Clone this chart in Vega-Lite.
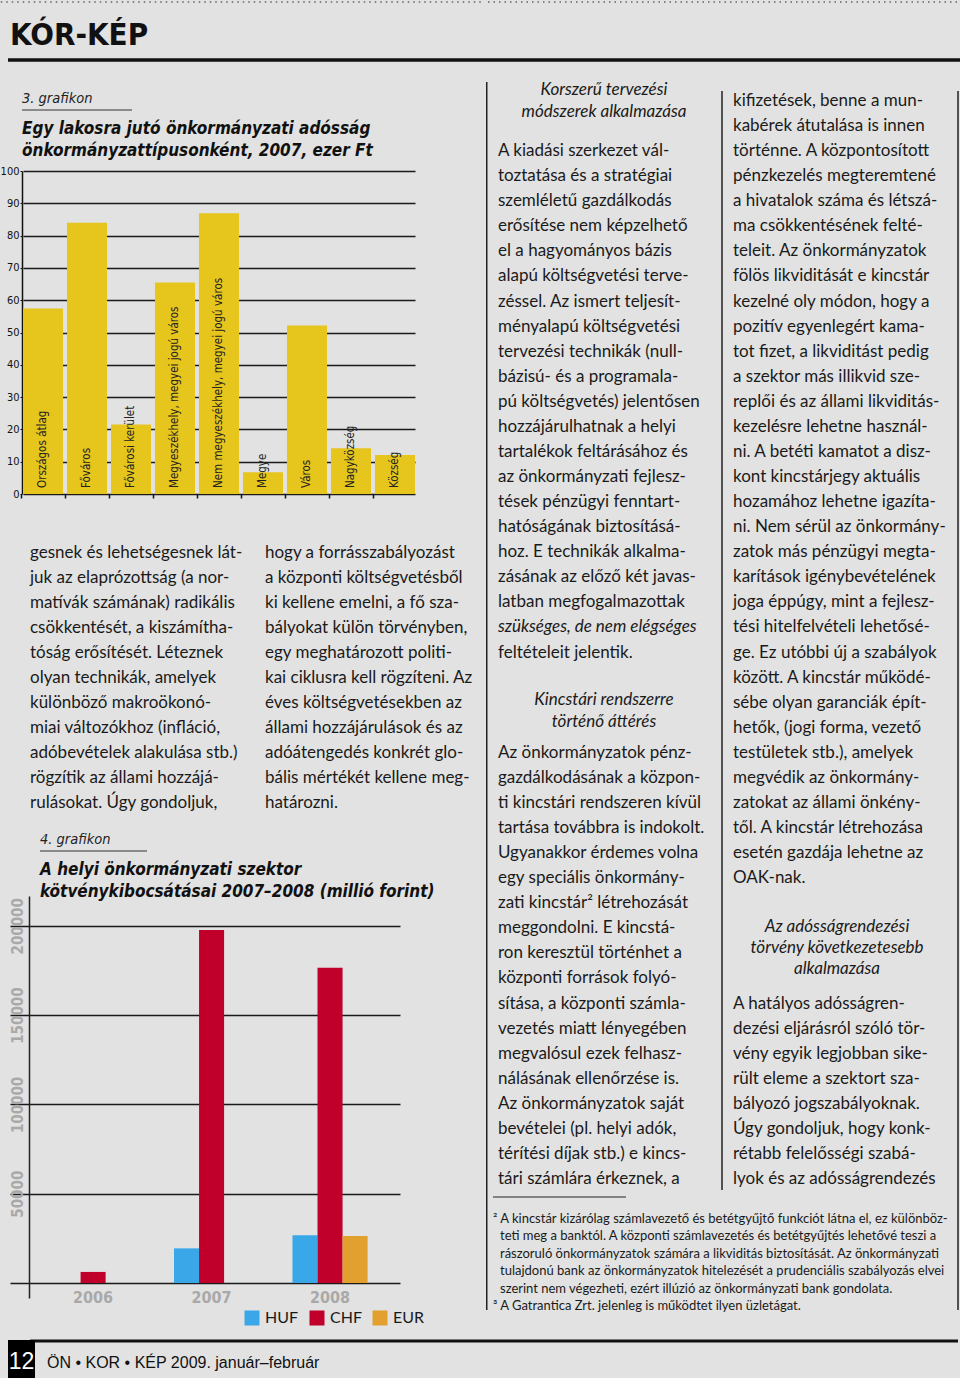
{
  "$schema": "https://vega.github.io/schema/vega-lite/v6.json",
  "background": "#e2e2e2",
  "padding": 0,
  "spacing": 0,
  "bounds": "full",
  "config": {"view": {"stroke": null}, "concat": {"spacing": 0}},
  "hconcat": [
    {
      "spacing": 0,
      "bounds": "flush",
      "vconcat": [
        {
          "width": 486, "height": 171,
          "data": {"values": [{"t": "KÓR-KÉP"}]},
          "layer": [
            {"mark": {"type": "rule", "color": "#666", "strokeWidth": 1.5, "strokeDash": [1.5, 4]}, "encoding": {"x": {"value": 0.75}, "x2": {"value": 484}, "y": {"value": 2}}},
            {"mark": {"type": "rect", "color": "#111"}, "encoding": {"x": {"value": 8}, "x2": {"value": 486}, "y": {"value": 58.25}, "y2": {"value": 61.75}}},
            {"mark": {"type": "rule", "color": "#333", "strokeWidth": 1}, "encoding": {"x": {"value": 22}, "x2": {"value": 132}, "y": {"value": 110}}},
            {"mark": {"type": "text", "align": "left", "baseline": "alphabetic", "font": "DejaVu Sans Condensed, DejaVu Sans, sans-serif", "fontSize": 31, "fontWeight": "bold", "color": "#111"}, "encoding": {"x": {"value": 10}, "y": {"value": 45}, "text": {"field": "t"}}}
          ]
        },
        {
          "width": 415, "height": 323,
          "title": {
            "text": "3. grafikon",
            "subtitle": ["Egy lakosra jutó önkormányzati adósság", "önkormányzattípusonként, 2007, ezer Ft"],
            "anchor": "start", "frame": "group", "dx": 22,
            "font": "DejaVu Sans Condensed, DejaVu Sans, sans-serif",
            "fontSize": 14.5, "fontStyle": "italic", "fontWeight": "normal", "color": "#222",
            "subtitleFont": "DejaVu Sans Condensed, DejaVu Sans, sans-serif",
            "subtitleFontSize": 17, "subtitleFontStyle": "italic", "subtitleFontWeight": "bold", "subtitleColor": "#111",
            "subtitleLineHeight": 22, "subtitlePadding": 15, "offset": 5
          },
          "data": {"values": [
            {"type": "Országos átlag", "value": 57.4},
            {"type": "Főváros", "value": 84.0},
            {"type": "Fővárosi kerület", "value": 21.5},
            {"type": "Megyeszékhely, megyei jogú város", "value": 65.5},
            {"type": "Nem megyeszékhely, megyei jogú város", "value": 86.9},
            {"type": "Megye", "value": 6.7},
            {"type": "Város", "value": 52.2},
            {"type": "Nagyközség", "value": 14.2},
            {"type": "Község", "value": 12.1}
          ]},
          "resolve": {"axis": {"y": "independent", "x": "independent"}},
          "layer": [
            {
              "mark": {"type": "bar", "color": "#e6c51d"},
              "encoding": {
                "x": {"field": "type", "type": "nominal", "sort": null, "scale": {"range": [23, 415], "paddingInner": 0.09, "paddingOuter": 0}, "axis": {"title": null, "labels": false, "domain": false, "ticks": true, "tickColor": "#111", "tickSize": 4, "tickWidth": 1.5, "bandPosition": 0, "tickOffset": -2}},
                "y": {"field": "value", "type": "quantitative", "scale": {"domain": [0, 100], "nice": false}, "axis": {"title": null, "offset": -22, "values": [0, 10, 20, 30, 40, 50, 60, 70, 80, 90, 100], "labelOverlap": false, "grid": true, "gridColor": "#1a1a1a", "gridWidth": 1.4, "domainColor": "#111", "domainWidth": 1.5, "tickColor": "#111", "tickSize": 2, "labelPadding": 1, "labelFont": "DejaVu Sans Condensed, DejaVu Sans, sans-serif", "labelFontSize": 11, "labelColor": "#111"}}
              }
            },
            {
              "mark": {"type": "text", "angle": 270, "align": "left", "baseline": "middle", "dx": 6, "font": "DejaVu Sans Condensed, DejaVu Sans, sans-serif", "fontSize": 11.5, "color": "#222"},
              "encoding": {
                "x": {"field": "type", "type": "nominal", "sort": null, "axis": null},
                "y": {"datum": 0, "type": "quantitative", "axis": null},
                "text": {"field": "type"}
              }
            }
          ]
        },
        {
          "width": 486, "height": 402,
          "data": {"values": [
            {"c": "A", "l": 0, "t": "gesnek és lehetségesnek lát-"},
            {"c": "A", "l": 1, "t": "juk az elaprózottság (a nor-"},
            {"c": "A", "l": 2, "t": "matívák számának) radikális"},
            {"c": "A", "l": 3, "t": "csökkentését, a kiszámítha-"},
            {"c": "A", "l": 4, "t": "tóság erősítését. Léteznek"},
            {"c": "A", "l": 5, "t": "olyan technikák, amelyek"},
            {"c": "A", "l": 6, "t": "különböző makroökonó-"},
            {"c": "A", "l": 7, "t": "miai változókhoz (infláció,"},
            {"c": "A", "l": 8, "t": "adóbevételek alakulása stb.)"},
            {"c": "A", "l": 9, "t": "rögzítik az állami hozzájá-"},
            {"c": "A", "l": 10, "t": "rulásokat. Úgy gondoljuk,"},
            {"c": "B", "l": 0, "t": "hogy a forrásszabályozást"},
            {"c": "B", "l": 1, "t": "a központi költségvetésből"},
            {"c": "B", "l": 2, "t": "ki kellene emelni, a fő sza-"},
            {"c": "B", "l": 3, "t": "bályokat külön törvényben,"},
            {"c": "B", "l": 4, "t": "egy meghatározott politi-"},
            {"c": "B", "l": 5, "t": "kai ciklusra kell rögzíteni. Az"},
            {"c": "B", "l": 6, "t": "éves költségvetésekben az"},
            {"c": "B", "l": 7, "t": "állami hozzájárulások és az"},
            {"c": "B", "l": 8, "t": "adóátengedés konkrét glo-"},
            {"c": "B", "l": 9, "t": "bális mértékét kellene meg-"},
            {"c": "B", "l": 10, "t": "határozni."}
          ]},
          "layer": [
            {"data": {"values": [{}]}, "mark": {"type": "rule", "color": "#333", "strokeWidth": 1}, "encoding": {"x": {"value": 40}, "x2": {"value": 147}, "y": {"value": 357}}},
            {
              "mark": {"type": "text", "align": "left", "baseline": "middle", "font": "Lato, Open Sans, sans-serif", "fontSize": 17, "color": "#1a1a1a"},
              "encoding": {
                "x": {"field": "c", "type": "nominal", "scale": {"type": "point", "domain": ["A", "B"], "range": [30, 265], "padding": 0}, "axis": null},
                "y": {"field": "l", "type": "quantitative", "scale": {"domain": [-2.34, 13.74], "reverse": true, "nice": false, "zero": false}, "axis": null},
                "text": {"field": "t"}
              }
            }
          ]
        },
        {
          "width": 400, "height": 402,
          "title": {
            "text": "4. grafikon",
            "subtitle": ["A helyi önkormányzati szektor", "kötvénykibocsátásai 2007–2008 (millió forint)"],
            "anchor": "start", "frame": "group", "dx": 40,
            "font": "DejaVu Sans Condensed, DejaVu Sans, sans-serif",
            "fontSize": 14.5, "fontStyle": "italic", "fontWeight": "normal", "color": "#222",
            "subtitleFont": "DejaVu Sans Condensed, DejaVu Sans, sans-serif",
            "subtitleFontSize": 17, "subtitleFontStyle": "italic", "subtitleFontWeight": "bold", "subtitleColor": "#111",
            "subtitleLineHeight": 22, "subtitlePadding": 15, "offset": -5
          },
          "data": {"values": [
            {"year": "2006", "cur": "CHF", "v": 6200},
            {"year": "2007", "cur": "HUF", "v": 19400},
            {"year": "2007", "cur": "CHF", "v": 197600},
            {"year": "2008", "cur": "HUF", "v": 26700},
            {"year": "2008", "cur": "CHF", "v": 176500},
            {"year": "2008", "cur": "EUR", "v": 26300}
          ]},
          "mark": {"type": "bar"},
          "encoding": {
            "x": {"field": "year", "type": "nominal", "scale": {"domain": ["2006", "2007", "2008"], "range": [10, 400], "paddingInner": 0, "paddingOuter": 0.146, "align": 0.69}, "axis": {"title": null, "domain": false, "ticks": false, "tickSize": 0, "labelAngle": 0, "labelBaseline": "top", "labelPadding": -9, "labelFont": "DejaVu Sans Condensed, DejaVu Sans, sans-serif", "labelFontWeight": "bold", "labelFontSize": 16, "labelColor": "#a9a9a9"}},
            "xOffset": {"field": "cur", "type": "nominal", "scale": {"domain": ["HUF", "CHF", "EUR"], "paddingInner": 0, "paddingOuter": 0.865}},
            "y": {"field": "v", "type": "quantitative", "scale": {"domain": [-8400, 216700], "nice": false, "zero": false}, "axis": {"title": null, "values": [0, 50000, 100000, 150000, 200000], "format": "d", "labelExpr": "datum.value == 0 ? '' : datum.label", "offset": -29, "grid": true, "gridColor": "#1a1a1a", "gridWidth": 1.5, "domain": true, "domainColor": "#222", "domainWidth": 1.5, "ticks": false, "tickSize": 0, "labelAngle": 270, "labelAlign": "center", "labelBaseline": "bottom", "labelPadding": 4, "labelFont": "DejaVu Sans Condensed, DejaVu Sans, sans-serif", "labelFontWeight": "bold", "labelFontSize": 15, "labelColor": "#a9a9a9"}},
            "color": {"field": "cur", "type": "nominal", "scale": {"domain": ["HUF", "CHF", "EUR"], "range": ["#3aa8e8", "#c0002b", "#e2a02e"]}, "legend": {"title": null, "orient": "none", "legendX": 244, "legendY": 1310, "direction": "horizontal", "symbolType": "square", "symbolSize": 225, "symbolStrokeWidth": 0, "symbolOpacity": 1, "labelFont": "Lato, Open Sans, sans-serif", "labelFontSize": 16, "labelColor": "#1a1a1a", "labelOffset": 5, "columnPadding": 10}}
          }
        },
        {
          "width": 486, "height": 80,
          "data": {"values": [{"page": "12", "t": "ÖN • KOR • KÉP 2009. január–február"}]},
          "layer": [
            {"mark": {"type": "rect", "color": "#111"}, "encoding": {"x": {"value": 30}, "x2": {"value": 486}, "y": {"value": 41.5}, "y2": {"value": 44.5}}},
            {"mark": {"type": "rect", "color": "#000"}, "encoding": {"x": {"value": 8}, "x2": {"value": 35}, "y": {"value": 42}, "y2": {"value": 80}}},
            {"mark": {"type": "text", "align": "center", "baseline": "alphabetic", "font": "Liberation Sans, Arial, sans-serif", "fontSize": 23, "color": "#ffffff"}, "encoding": {"x": {"value": 21.5}, "y": {"value": 71}, "text": {"field": "page"}}},
            {"mark": {"type": "text", "align": "left", "baseline": "alphabetic", "font": "Liberation Sans, Arial, sans-serif", "fontSize": 16, "color": "#111"}, "encoding": {"x": {"value": 47}, "y": {"value": 70}, "text": {"field": "t"}}}
          ]
        }
      ]
    },
    {
      "width": 474, "height": 1378,
      "data": {"values": [
        {"c": "m", "k": "h", "l": -0.44, "t": "Korszerű tervezési"},
        {"c": "m", "k": "h", "l": 0.44, "t": "módszerek alkalmazása"},
        {"c": "m", "k": "b", "l": 2, "t": "   A kiadási szerkezet vál-"},
        {"c": "m", "k": "b", "l": 3, "t": "toztatása és a stratégiai"},
        {"c": "m", "k": "b", "l": 4, "t": "szemléletű gazdálkodás"},
        {"c": "m", "k": "b", "l": 5, "t": "erősítése nem képzelhető"},
        {"c": "m", "k": "b", "l": 6, "t": "el a hagyományos bázis"},
        {"c": "m", "k": "b", "l": 7, "t": "alapú költségvetési terve-"},
        {"c": "m", "k": "b", "l": 8, "t": "zéssel. Az ismert teljesít-"},
        {"c": "m", "k": "b", "l": 9, "t": "ményalapú költségvetési"},
        {"c": "m", "k": "b", "l": 10, "t": "tervezési technikák (null-"},
        {"c": "m", "k": "b", "l": 11, "t": "bázisú- és a programala-"},
        {"c": "m", "k": "b", "l": 12, "t": "pú költségvetés) jelentősen"},
        {"c": "m", "k": "b", "l": 13, "t": "hozzájárulhatnak a helyi"},
        {"c": "m", "k": "b", "l": 14, "t": "tartalékok feltárásához és"},
        {"c": "m", "k": "b", "l": 15, "t": "az önkormányzati fejlesz-"},
        {"c": "m", "k": "b", "l": 16, "t": "tések pénzügyi fenntart-"},
        {"c": "m", "k": "b", "l": 17, "t": "hatóságának biztosításá-"},
        {"c": "m", "k": "b", "l": 18, "t": "hoz. E technikák alkalma-"},
        {"c": "m", "k": "b", "l": 19, "t": "zásának az előző két javas-"},
        {"c": "m", "k": "b", "l": 20, "t": "latban megfogalmazottak"},
        {"c": "m", "k": "i", "l": 21, "t": "szükséges, de nem elégséges"},
        {"c": "m", "k": "b", "l": 22, "t": "feltételeit jelentik."},
        {"c": "m", "k": "h", "l": 23.89, "t": "Kincstári rendszerre"},
        {"c": "m", "k": "h", "l": 24.77, "t": "történő áttérés"},
        {"c": "m", "k": "b", "l": 26, "t": "   Az önkormányzatok pénz-"},
        {"c": "m", "k": "b", "l": 27, "t": "gazdálkodásának a közpon-"},
        {"c": "m", "k": "b", "l": 28, "t": "ti kincstári rendszeren kívül"},
        {"c": "m", "k": "b", "l": 29, "t": "tartása továbbra is indokolt."},
        {"c": "m", "k": "b", "l": 30, "t": "Ugyanakkor érdemes volna"},
        {"c": "m", "k": "b", "l": 31, "t": "egy speciális önkormány-"},
        {"c": "m", "k": "b", "l": 32, "t": "zati kincstár² létrehozását"},
        {"c": "m", "k": "b", "l": 33, "t": "meggondolni. E kincstá-"},
        {"c": "m", "k": "b", "l": 34, "t": "ron keresztül történhet a"},
        {"c": "m", "k": "b", "l": 35, "t": "központi források folyó-"},
        {"c": "m", "k": "b", "l": 36, "t": "sítása, a központi számla-"},
        {"c": "m", "k": "b", "l": 37, "t": "vezetés miatt lényegében"},
        {"c": "m", "k": "b", "l": 38, "t": "megvalósul ezek felhasz-"},
        {"c": "m", "k": "b", "l": 39, "t": "nálásának ellenőrzése is."},
        {"c": "m", "k": "b", "l": 40, "t": "Az önkormányzatok saját"},
        {"c": "m", "k": "b", "l": 41, "t": "bevételei (pl. helyi adók,"},
        {"c": "m", "k": "b", "l": 42, "t": "térítési díjak stb.) e kincs-"},
        {"c": "m", "k": "b", "l": 43, "t": "tári számlára érkeznek, a"},
        {"c": "r", "k": "b", "l": 0, "t": "kifizetések, benne a mun-"},
        {"c": "r", "k": "b", "l": 1, "t": "kabérek átutalása is innen"},
        {"c": "r", "k": "b", "l": 2, "t": "történne. A központosított"},
        {"c": "r", "k": "b", "l": 3, "t": "pénzkezelés megteremtené"},
        {"c": "r", "k": "b", "l": 4, "t": "a hivatalok száma és létszá-"},
        {"c": "r", "k": "b", "l": 5, "t": "ma csökkentésének felté-"},
        {"c": "r", "k": "b", "l": 6, "t": "teleit. Az önkormányzatok"},
        {"c": "r", "k": "b", "l": 7, "t": "fölös likviditását e kincstár"},
        {"c": "r", "k": "b", "l": 8, "t": "kezelné oly módon, hogy a"},
        {"c": "r", "k": "b", "l": 9, "t": "pozitív egyenlegért kama-"},
        {"c": "r", "k": "b", "l": 10, "t": "tot fizet, a likviditást pedig"},
        {"c": "r", "k": "b", "l": 11, "t": "a szektor más illikvid sze-"},
        {"c": "r", "k": "b", "l": 12, "t": "replői és az állami likviditás-"},
        {"c": "r", "k": "b", "l": 13, "t": "kezelésre lehetne használ-"},
        {"c": "r", "k": "b", "l": 14, "t": "ni. A betéti kamatot a disz-"},
        {"c": "r", "k": "b", "l": 15, "t": "kont kincstárjegy aktuális"},
        {"c": "r", "k": "b", "l": 16, "t": "hozamához lehetne igazíta-"},
        {"c": "r", "k": "b", "l": 17, "t": "ni. Nem sérül az önkormány-"},
        {"c": "r", "k": "b", "l": 18, "t": "zatok más pénzügyi megta-"},
        {"c": "r", "k": "b", "l": 19, "t": "karítások igénybevételének"},
        {"c": "r", "k": "b", "l": 20, "t": "joga éppúgy, mint a fejlesz-"},
        {"c": "r", "k": "b", "l": 21, "t": "tési hitelfelvételi lehetősé-"},
        {"c": "r", "k": "b", "l": 22, "t": "ge. Ez utóbbi új a szabályok"},
        {"c": "r", "k": "b", "l": 23, "t": "között. A kincstár működé-"},
        {"c": "r", "k": "b", "l": 24, "t": "sébe olyan garanciák épít-"},
        {"c": "r", "k": "b", "l": 25, "t": "hetők, (jogi forma, vezető"},
        {"c": "r", "k": "b", "l": 26, "t": "testületek stb.), amelyek"},
        {"c": "r", "k": "b", "l": 27, "t": "megvédik az önkormány-"},
        {"c": "r", "k": "b", "l": 28, "t": "zatokat az állami önkény-"},
        {"c": "r", "k": "b", "l": 29, "t": "től. A kincstár létrehozása"},
        {"c": "r", "k": "b", "l": 30, "t": "esetén gazdája lehetne az"},
        {"c": "r", "k": "b", "l": 31, "t": "OAK-nak."},
        {"c": "r", "k": "h", "l": 32.95, "t": "Az adósságrendezési"},
        {"c": "r", "k": "h", "l": 33.79, "t": "törvény következetesebb"},
        {"c": "r", "k": "h", "l": 34.62, "t": "alkalmazása"},
        {"c": "r", "k": "b", "l": 36, "t": "   A hatályos adósságren-"},
        {"c": "r", "k": "b", "l": 37, "t": "dezési eljárásról szóló tör-"},
        {"c": "r", "k": "b", "l": 38, "t": "vény egyik legjobban sike-"},
        {"c": "r", "k": "b", "l": 39, "t": "rült eleme a szektort sza-"},
        {"c": "r", "k": "b", "l": 40, "t": "bályozó jogszabályoknak."},
        {"c": "r", "k": "b", "l": 41, "t": "Úgy gondoljuk, hogy konk-"},
        {"c": "r", "k": "b", "l": 42, "t": "rétabb felelősségi szabá-"},
        {"c": "r", "k": "b", "l": 43, "t": "lyok és az adósságrendezés"},
        {"c": "f", "k": "n", "l": 0, "t": "² A kincstár kizárólag számlavezető és betétgyűjtő funkciót látna el, ez különböz-"},
        {"c": "f", "k": "c", "l": 1, "t": "teti meg a banktól. A központi számlavezetés és betétgyűjtés lehetővé teszi a"},
        {"c": "f", "k": "c", "l": 2, "t": "rászoruló önkormányzatok számára a likviditás biztosítását. Az önkormányzati"},
        {"c": "f", "k": "c", "l": 3, "t": "tulajdonú bank az önkormányzatok hitelezését a prudenciális szabályozás elvei"},
        {"c": "f", "k": "c", "l": 4, "t": "szerint nem végezheti, ezért illúzió az önkormányzati bank gondolata."},
        {"c": "f", "k": "n", "l": 5, "t": "³  A Gatrantica Zrt. jelenleg is működtet ilyen üzletágat."}
      ]},
      "resolve": {"scale": {"y": "independent"}},
      "layer": [
        {"data": {"values": [{}]}, "mark": {"type": "rule", "color": "#666", "strokeWidth": 1.5, "strokeDash": [1.5, 4]}, "encoding": {"x": {"value": 2}, "x2": {"value": 473}, "y": {"value": 2}}},
        {"data": {"values": [{}]}, "mark": {"type": "rect", "color": "#111"}, "encoding": {"x": {"value": 0}, "x2": {"value": 474}, "y": {"value": 58.25}, "y2": {"value": 61.75}}},
        {"data": {"values": [{}]}, "mark": {"type": "rect", "color": "#111"}, "encoding": {"x": {"value": 0}, "x2": {"value": 472}, "y": {"value": 1339.5}, "y2": {"value": 1342.5}}},
        {"data": {"values": [{}]}, "mark": {"type": "rule", "color": "#222", "strokeWidth": 1}, "encoding": {"x": {"value": 7}, "x2": {"value": 140}, "y": {"value": 1197}}},
        {"data": {"values": [{}]}, "mark": {"type": "rule", "color": "#222", "strokeWidth": 1.5}, "encoding": {"x": {"value": 0.75}, "y": {"value": 82}, "y2": {"value": 1310}}},
        {"data": {"values": [{}]}, "mark": {"type": "rule", "color": "#222", "strokeWidth": 1.5}, "encoding": {"x": {"value": 236}, "y": {"value": 91}, "y2": {"value": 1190}}},
        {"data": {"values": [{}]}, "mark": {"type": "rule", "color": "#222", "strokeWidth": 1.5}, "encoding": {"x": {"value": 472}, "y": {"value": 91}, "y2": {"value": 1310}}},
        {
          "transform": [{"filter": "datum.c == 'm' && datum.k == 'b'"}],
          "mark": {"type": "text", "align": "left", "baseline": "middle", "font": "Lato, Open Sans, sans-serif", "fontSize": 17, "color": "#1a1a1a"},
          "encoding": {"x": {"value": 12}, "y": {"field": "l", "type": "quantitative", "scale": {"domain": [-4.029, 50.937], "reverse": true, "nice": false, "zero": false}, "axis": null}, "text": {"field": "t"}}
        },
        {
          "transform": [{"filter": "datum.c == 'm' && datum.k == 'i'"}],
          "mark": {"type": "text", "align": "left", "baseline": "middle", "font": "Lato, Open Sans, sans-serif", "fontSize": 17, "fontStyle": "italic", "color": "#1a1a1a"},
          "encoding": {"x": {"value": 12}, "y": {"field": "l", "type": "quantitative", "scale": {"domain": [-4.029, 50.937], "reverse": true, "nice": false, "zero": false}, "axis": null}, "text": {"field": "t"}}
        },
        {
          "transform": [{"filter": "datum.c == 'm' && datum.k == 'h'"}],
          "mark": {"type": "text", "align": "center", "baseline": "middle", "font": "Lato, Open Sans, sans-serif", "fontSize": 17, "fontStyle": "italic", "color": "#1a1a1a"},
          "encoding": {"x": {"value": 118}, "y": {"field": "l", "type": "quantitative", "scale": {"domain": [-4.029, 50.937], "reverse": true, "nice": false, "zero": false}, "axis": null}, "text": {"field": "t"}}
        },
        {
          "transform": [{"filter": "datum.c == 'r' && datum.k == 'b'"}],
          "mark": {"type": "text", "align": "left", "baseline": "middle", "font": "Lato, Open Sans, sans-serif", "fontSize": 17, "color": "#1a1a1a"},
          "encoding": {"x": {"value": 247}, "y": {"field": "l", "type": "quantitative", "scale": {"domain": [-4.029, 50.937], "reverse": true, "nice": false, "zero": false}, "axis": null}, "text": {"field": "t"}}
        },
        {
          "transform": [{"filter": "datum.c == 'r' && datum.k == 'h'"}],
          "mark": {"type": "text", "align": "center", "baseline": "middle", "font": "Lato, Open Sans, sans-serif", "fontSize": 17, "fontStyle": "italic", "color": "#1a1a1a"},
          "encoding": {"x": {"value": 351}, "y": {"field": "l", "type": "quantitative", "scale": {"domain": [-4.029, 50.937], "reverse": true, "nice": false, "zero": false}, "axis": null}, "text": {"field": "t"}}
        },
        {
          "transform": [{"filter": "datum.c == 'f' && datum.k == 'n'"}],
          "mark": {"type": "text", "align": "left", "baseline": "middle", "font": "Lato, Open Sans, sans-serif", "fontSize": 13, "color": "#1a1a1a"},
          "encoding": {"x": {"value": 7}, "y": {"field": "l", "type": "quantitative", "scale": {"domain": [-69.657, 9.086], "reverse": true, "nice": false, "zero": false}, "axis": null}, "text": {"field": "t"}}
        },
        {
          "transform": [{"filter": "datum.c == 'f' && datum.k == 'c'"}],
          "mark": {"type": "text", "align": "left", "baseline": "middle", "font": "Lato, Open Sans, sans-serif", "fontSize": 13, "color": "#1a1a1a"},
          "encoding": {"x": {"value": 14}, "y": {"field": "l", "type": "quantitative", "scale": {"domain": [-69.657, 9.086], "reverse": true, "nice": false, "zero": false}, "axis": null}, "text": {"field": "t"}}
        }
      ]
    }
  ]
}
